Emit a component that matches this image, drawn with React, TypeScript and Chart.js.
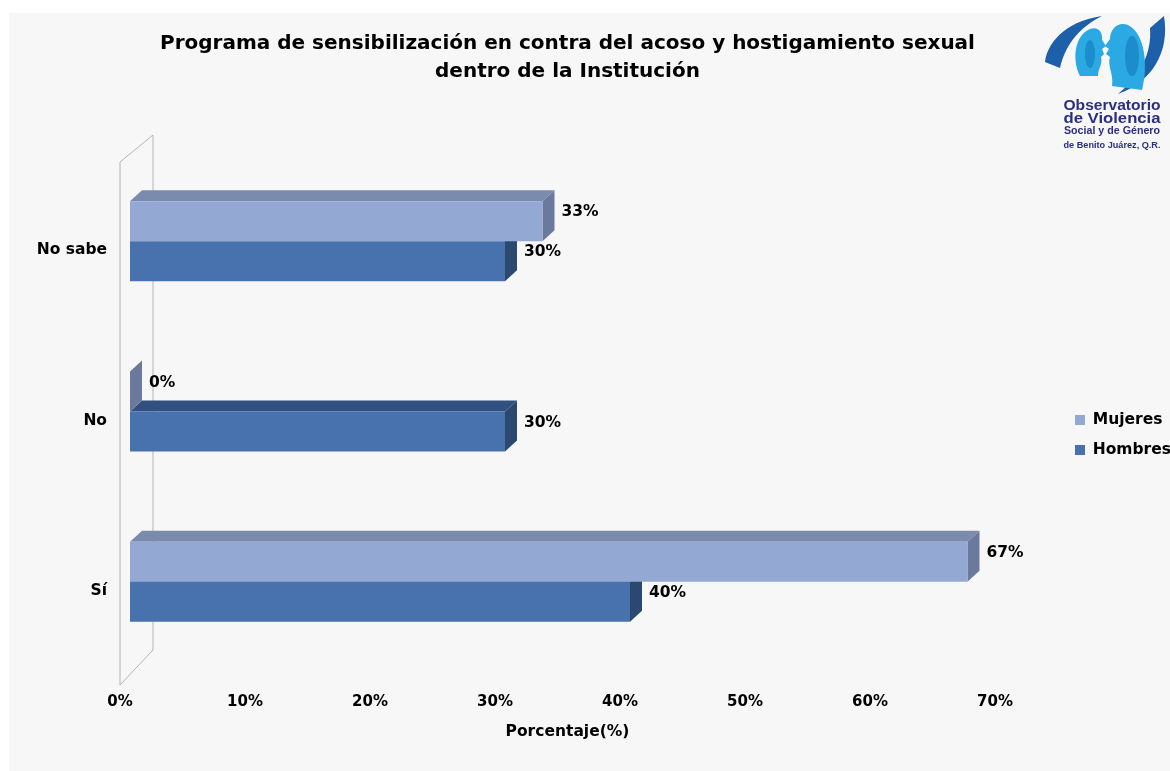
import React, { useEffect, useRef } from 'react';
import { Chart, registerables } from 'chart.js';

Chart.register(...registerables);

// ---- data ----
const categories = ['No sabe', 'No', 'Sí'];
const mujeres = [33, 0, 67];
const hombres = [30, 30, 40];
const seriesNames = ['Mujeres', 'Hombres'];
const xTicks = [0, 10, 20, 30, 40, 50, 60, 70];
const titleLines = [
  'Programa de sensibilización en contra del acoso y hostigamiento sexual',
  'dentro de la Institución',
];
const xTitle = 'Porcentaje(%)';

// ---- styles ----
const FONT = "'DejaVu Sans', sans-serif";
const DX = 12;
const DY = 11;
const faces = [
  { front: '#94a8d4', top: '#7b8bad', side: '#6b7a9c' },
  { front: '#4772ad', top: '#2f5080', side: '#2b4870' },
];

const threeD = {
  id: 'threeD',
  beforeDatasetsDraw(chart: any) {
    const ctx = chart.ctx;
    const a = chart.chartArea;
    ctx.save();
    // back wall outline
    ctx.strokeStyle = '#b4b4b4';
    ctx.lineWidth = 1;
    const fx = a.left - 10;
    const bx = a.left + 23;
    ctx.beginPath();
    ctx.moveTo(fx, a.top + 6);
    ctx.lineTo(fx, a.bottom + 18);
    ctx.lineTo(bx, a.bottom - 17);
    ctx.lineTo(bx, a.top - 21);
    ctx.closePath();
    ctx.stroke();
    // top and side faces, lower series first
    for (let d = chart.data.datasets.length - 1; d >= 0; d--) {
      const meta = chart.getDatasetMeta(d);
      meta.data.forEach((bar: any) => {
        const p = bar.getProps(['x', 'y', 'base', 'height'], true);
        const top = p.y - p.height / 2;
        const bottom = p.y + p.height / 2;
        ctx.fillStyle = faces[d].top;
        ctx.beginPath();
        ctx.moveTo(p.base, top);
        ctx.lineTo(p.base + DX, top - DY);
        ctx.lineTo(p.x + DX, top - DY);
        ctx.lineTo(p.x, top);
        ctx.closePath();
        ctx.fill();
        ctx.fillStyle = faces[d].side;
        ctx.beginPath();
        ctx.moveTo(p.x, top);
        ctx.lineTo(p.x + DX, top - DY);
        ctx.lineTo(p.x + DX, bottom - DY);
        ctx.lineTo(p.x, bottom);
        ctx.closePath();
        ctx.fill();
      });
    }
    ctx.restore();
  },
  afterDatasetsDraw(chart: any) {
    const ctx = chart.ctx;
    ctx.save();
    ctx.font = `bold 15.5px ${FONT}`;
    ctx.fillStyle = '#000';
    ctx.textAlign = 'left';
    ctx.textBaseline = 'middle';
    chart.data.datasets.forEach((ds: any, d: number) => {
      const meta = chart.getDatasetMeta(d);
      meta.data.forEach((bar: any, i: number) => {
        const p = bar.getProps(['x', 'y'], true);
        ctx.fillText(`${ds.data[i]}%`, p.x + DX + 7, p.y - 9);
      });
    });
    ctx.restore();
  },
};

const legendShift = {
  id: 'legendShift',
  afterLayout(chart: any) {
    const lg = chart.legend;
    if (!lg) return;
    lg.left += 55.5;
    lg.right += 55.5;
    lg.top += 43;
    lg.bottom += 43;
  },
};

export default function App() {
  const ref = useRef<HTMLCanvasElement>(null);

  useEffect(() => {
    const chart = new Chart(ref.current as HTMLCanvasElement, {
      type: 'bar',
      data: {
        labels: categories,
        datasets: [
          {
            label: seriesNames[0],
            data: mujeres,
            backgroundColor: faces[0].front,
            borderWidth: 0,
            barPercentage: 1,
            categoryPercentage: 0.47,
          },
          {
            label: seriesNames[1],
            data: hombres,
            backgroundColor: faces[1].front,
            borderWidth: 0,
            barPercentage: 1,
            categoryPercentage: 0.47,
          },
        ],
      },
      options: {
        responsive: false,
        animation: false,
        indexAxis: 'y',
        layout: { padding: { left: 0, right: 53, top: 0, bottom: 0 } },
        scales: {
          x: {
            type: 'linear',
            min: 0,
            max: 70,
            grid: { display: false },
            border: { display: false },
            afterBuildTicks: (s: any) => {
              s.ticks = xTicks.map((v) => ({ value: v }));
            },
            ticks: {
              callback: (v: any) => `${v}%`,
              font: { family: FONT, size: 15, weight: 'bold' },
              color: '#000',
              padding: 18,
              labelOffset: -10,
              maxRotation: 0,
              autoSkip: false,
            },
            title: {
              display: true,
              text: xTitle,
              font: { family: FONT, size: 15.5, weight: 'bold' },
              color: '#000',
              padding: { top: 0, bottom: 30 },
            },
            afterFit: (s: any) => {
              s.height = 104;
            },
          },
          y: {
            type: 'category',
            grid: { display: false },
            border: { display: false },
            ticks: {
              font: { family: FONT, size: 15.5, weight: 'bold' },
              color: '#000',
              padding: 15,
              labelOffset: 9,
            },
            afterFit: (s: any) => {
              s.width = 121;
            },
          },
        },
        plugins: {
          title: {
            display: true,
            text: titleLines,
            fullSize: false,
            color: '#000',
            font: { family: FONT, size: 20, weight: 'bold', lineHeight: 1.4 },
            padding: { top: 17, bottom: 70 },
          },
          legend: {
            display: true,
            position: 'right',
            align: 'center',
            maxWidth: 112,
            labels: {
              boxWidth: 10,
              boxHeight: 10,
              padding: 14.5,
              color: '#000',
              font: { family: FONT, size: 15.5, weight: 'bold' },
            },
          },
          tooltip: { enabled: false },
        },
      },
      plugins: [threeD, legendShift],
    } as any);
    return () => chart.destroy();
  }, []);

  return (
    <div
      style={{
        position: 'absolute',
        left: 9,
        top: 13,
        width: 1161,
        height: 758,
        background: '#f7f7f7',
        overflow: 'hidden',
      }}
    >
      <canvas
        ref={ref}
        width={1161}
        height={758}
        style={{ display: 'block', width: 1161, height: 758 }}
      />
      <svg
        width={130}
        height={142}
        viewBox="0 0 130 142"
        style={{ position: 'absolute', left: 1031, top: -1 }}
      >
        <path d="M5 50 C 8 26 32 8 62 4 C 42 14 26 30 20 56 Z" fill="#1d5fa8" />
        <path d="M124 4 C 130 40 112 70 78 82 C 100 64 112 42 110 16 Z" fill="#1d5fa8" />
        <path
          d="M40 64 C 32 48 34 24 50 17 C 58 14 63 20 62 28 L 66 34 L 62 37 L 64 42 L 61 45 C 63 52 58 56 58 64 Z"
          fill="#2aa9e3"
        />
        <path
          d="M102 78 C 108 56 106 22 88 13 C 78 9 70 17 70 27 L 65 34 L 69 37 L 66 42 L 70 45 C 67 54 74 62 72 74 Z"
          fill="#2aa9e3"
        />
        <ellipse cx={92} cy={44} rx={7} ry={20} fill="#1c8ccc" />
        <ellipse cx={50} cy={42} rx={5} ry={14} fill="#1c8ccc" />
        <g fill="#2b2e83" fontFamily="'Liberation Sans', Arial, sans-serif" fontWeight="bold" textAnchor="middle">
          <text x={72} y={98} fontSize={15.5} textLength={97} lengthAdjust="spacingAndGlyphs">Observatorio</text>
          <text x={72} y={111} fontSize={15.5} textLength={97} lengthAdjust="spacingAndGlyphs">de Violencia</text>
          <text x={72} y={122} fontSize={10.5} textLength={96} lengthAdjust="spacingAndGlyphs">Social y de Género</text>
          <text x={72} y={136} fontSize={8.5} textLength={97} lengthAdjust="spacingAndGlyphs">de Benito Juárez, Q.R.</text>
        </g>
      </svg>
    </div>
  );
}
